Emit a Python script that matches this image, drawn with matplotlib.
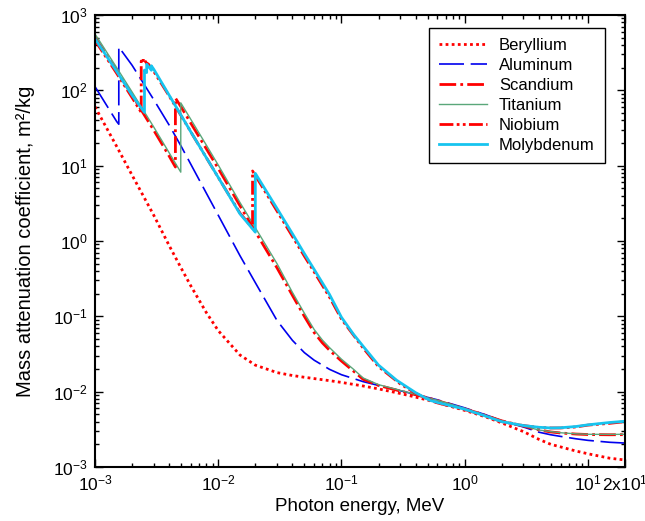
import matplotlib
matplotlib.use("Agg")
import matplotlib.pyplot as plt
from matplotlib.ticker import LogLocator, NullFormatter

plt.rcParams['font.family'] = ['Liberation Sans', 'DejaVu Sans']
plt.rcParams['mathtext.fontset'] = 'custom'
plt.rcParams['mathtext.rm'] = 'Liberation Sans'
plt.rcParams['mathtext.it'] = 'Liberation Sans:italic'
plt.rcParams['mathtext.default'] = 'regular'

# photon energy (MeV) and mass attenuation coefficient (m2/kg)
be_energy = [0.001, 0.0015, 0.002, 0.003, 0.004, 0.005, 0.006, 0.008, 0.01, 0.015,
             0.02, 0.03, 0.04, 0.05, 0.06, 0.08, 0.1, 0.15, 0.2, 0.3, 0.4, 0.5, 0.6,
             0.8, 1, 1.25, 1.5, 2, 3, 4, 5, 6, 8, 10, 15, 20]
be_mu = [60.4, 17.97, 7.469, 2.192, 0.8685, 0.4369, 0.2527, 0.1124, 0.06466, 0.0307,
         0.02251, 0.01792, 0.0164, 0.01554, 0.01493, 0.01401, 0.01328, 0.0119, 0.01089,
         0.009463, 0.008471, 0.007739, 0.007155, 0.006286, 0.005647, 0.00505, 0.00459,
         0.00385, 0.00295, 0.00233, 0.00200, 0.00185, 0.00163, 0.00150, 0.00131, 0.00124]

al_energy = [0.001, 0.0015, 0.0015596, 0.0015596, 0.002, 0.003, 0.004, 0.005, 0.006,
             0.008, 0.01, 0.015, 0.02, 0.03, 0.04, 0.05, 0.06, 0.08, 0.1, 0.15, 0.2,
             0.3, 0.4, 0.5, 0.6, 0.8, 1, 1.25, 1.5, 2, 3, 4, 5, 6, 8, 10, 15, 20]
al_mu = [112, 38.5, 35.5, 376, 215, 75, 34.5, 18.1, 10.4, 4.33, 2.2, 0.64, 0.28, 0.088,
         0.048, 0.033, 0.0262, 0.0198, 0.0168, 0.0136, 0.0121, 0.0103, 0.0092, 0.0084,
         0.0078, 0.0068, 0.0061, 0.0054, 0.0049, 0.0041, 0.0034, 0.0029, 0.00268,
         0.00255, 0.00237, 0.00226, 0.00213, 0.00208]

sc_energy = [0.001, 0.0015, 0.002, 0.003, 0.004, 0.004492, 0.004492, 0.005, 0.006,
             0.008, 0.01, 0.015, 0.02, 0.03, 0.04, 0.05, 0.06, 0.07, 0.08, 0.1, 0.125,
             0.15, 0.2, 0.3, 0.4, 0.5, 0.6, 0.8, 1, 1.25, 1.5, 2, 3, 4, 5, 6, 8, 10, 15, 20]
sc_mu = [505, 182, 86, 29.5, 13.4, 9.6, 79, 60, 36.5, 16.8, 9.2, 2.95, 1.33, 0.44, 0.19,
         0.10, 0.061, 0.0445, 0.0355, 0.0255, 0.0188, 0.0146, 0.0121, 0.0102, 0.0091,
         0.0083, 0.0076, 0.0066, 0.0059, 0.0053, 0.0048, 0.0041, 0.0035, 0.0031,
         0.00292, 0.00283, 0.00274, 0.0027, 0.00268, 0.00269]

ti_energy = [0.001, 0.0015, 0.002, 0.003, 0.004, 0.004966, 0.004966, 0.006, 0.008,
             0.01, 0.015, 0.02, 0.03, 0.04, 0.05, 0.06, 0.07, 0.08, 0.1, 0.125, 0.15,
             0.2, 0.3, 0.4, 0.5, 0.6, 0.8, 1, 1.25, 1.5, 2, 3, 4, 5, 6, 8, 10, 15, 20]
ti_mu = [560, 200, 95, 32.5, 14.8, 8.2, 68.3, 41, 18.8, 10.2, 3.25, 1.5, 0.5, 0.208,
         0.11, 0.067, 0.0485, 0.0385, 0.027, 0.0199, 0.0152, 0.0124, 0.0104, 0.0092,
         0.0083, 0.0077, 0.0067, 0.0060, 0.0053, 0.0048, 0.0041, 0.0035, 0.0031,
         0.00295, 0.00285, 0.00276, 0.00272, 0.00271, 0.00272]

nb_energy = [0.001, 0.0015, 0.002, 0.002371, 0.002371, 0.002465, 0.002465, 0.002698,
             0.002698, 0.003, 0.004, 0.005, 0.006, 0.008, 0.01, 0.015, 0.01899, 0.01899,
             0.02, 0.03, 0.04, 0.05, 0.06, 0.08, 0.1, 0.15, 0.2, 0.3, 0.4, 0.5, 0.6, 0.8,
             1, 1.25, 1.5, 2, 3, 4, 5, 6, 8, 10, 15, 20]
nb_mu = [460, 168, 80, 51, 245, 230, 265, 215, 225, 178, 84, 46, 28, 12.8, 7.0, 2.35,
         1.48, 8.5, 7.4, 2.5, 1.15, 0.63, 0.39, 0.18, 0.092, 0.038, 0.0215, 0.0127,
         0.0095, 0.0080, 0.0071, 0.0063, 0.0058, 0.0052, 0.0047, 0.0040, 0.00355,
         0.00335, 0.0033, 0.0033, 0.0034, 0.0036, 0.0038, 0.0040]

mo_energy = [0.001, 0.0015, 0.002, 0.00252, 0.00252, 0.002625, 0.002625, 0.002866,
             0.002866, 0.003, 0.004, 0.005, 0.006, 0.008, 0.01, 0.015, 0.02, 0.02,
             0.03, 0.04, 0.05, 0.06, 0.08, 0.1, 0.125, 0.15, 0.2, 0.28, 0.4, 0.52, 0.6,
             0.8, 1, 1.25, 1.5, 2, 3, 4, 5, 6, 8, 10, 15, 20]
mo_mu = [485, 178, 86, 51, 186, 172, 222, 185, 212, 190, 86, 46.5, 28, 12.8, 7.0, 2.3,
         1.31, 7.9, 2.7, 1.25, 0.68, 0.42, 0.195, 0.097, 0.058, 0.040, 0.0225, 0.0142,
         0.0097, 0.0077, 0.0072, 0.0064, 0.00585, 0.0052, 0.0047, 0.0040, 0.00355,
         0.00337, 0.0033, 0.00332, 0.00345, 0.00363, 0.0039, 0.00405]

fig = plt.figure(figsize=(6.45, 5.21), dpi=100)
ax = fig.add_axes([0.1473, 0.1036, 0.8217, 0.8676])

ax.plot(be_energy, be_mu, color='#ff0000', lw=2, ls=(0, (1, 1.2)), label='Beryllium')
ax.plot(al_energy, al_mu, color='#0000ee', lw=1.2, ls=(0, (15, 4)), label='Aluminum')
ax.plot(sc_energy, sc_mu, color='#ff0000', lw=2, ls=(0, (6, 1.5, 1, 1.5)), label='Scandium')
ax.plot(ti_energy, ti_mu, color='#5aa77a', lw=1.0, label='Titanium')
ax.plot(nb_energy, nb_mu, color='#ff0000', lw=2, ls=(0, (5, 1.2, 1, 1.2, 1, 1.2)), label='Niobium')
ax.plot(mo_energy, mo_mu, color='#17c4ef', lw=2, label='Molybdenum')

ax.set_xscale('log')
ax.set_yscale('log')
ax.set_xlim(1e-3, 20)
ax.set_ylim(1e-3, 1e3)

ax.set_xticks([1e-3, 1e-2, 1e-1, 1, 10, 20])
ax.set_xticklabels(['10$^{-3}$', '10$^{-2}$', '10$^{-1}$', '10$^{0}$', '10$^{1}$', '2x10$^{1}$'])
ax.set_yticks([1e-3, 1e-2, 1e-1, 1, 10, 100, 1000])
ax.set_yticklabels(['10$^{-3}$', '10$^{-2}$', '10$^{-1}$', '10$^{0}$', '10$^{1}$', '10$^{2}$', '10$^{3}$'])
ax.xaxis.set_minor_locator(LogLocator(base=10, subs=range(2, 10), numticks=20))
ax.yaxis.set_minor_locator(LogLocator(base=10, subs=range(2, 10), numticks=20))
ax.xaxis.set_minor_formatter(NullFormatter())
ax.yaxis.set_minor_formatter(NullFormatter())

ax.tick_params(which='both', direction='in', top=True, right=True, labelsize=12.5, width=1)
ax.tick_params(which='major', length=6, pad=5)
ax.tick_params(which='minor', length=3)
for s in ax.spines.values():
    s.set_linewidth(1.5)

ax.set_xlabel('Photon energy, MeV', fontsize=13.5, labelpad=3)
ax.set_ylabel('Mass attenuation coefficient, m²/kg', fontsize=14.5, labelpad=13)

leg = ax.legend(loc='upper right', bbox_to_anchor=(0.962, 0.971), borderaxespad=0,
                fontsize=12, handlelength=2.9, handletextpad=0.7, labelspacing=0.3,
                borderpad=0.6, fancybox=False, framealpha=1)
leg.get_frame().set_edgecolor('black')
leg.get_frame().set_linewidth(1.0)

fig.savefig('out.png', dpi=100)
